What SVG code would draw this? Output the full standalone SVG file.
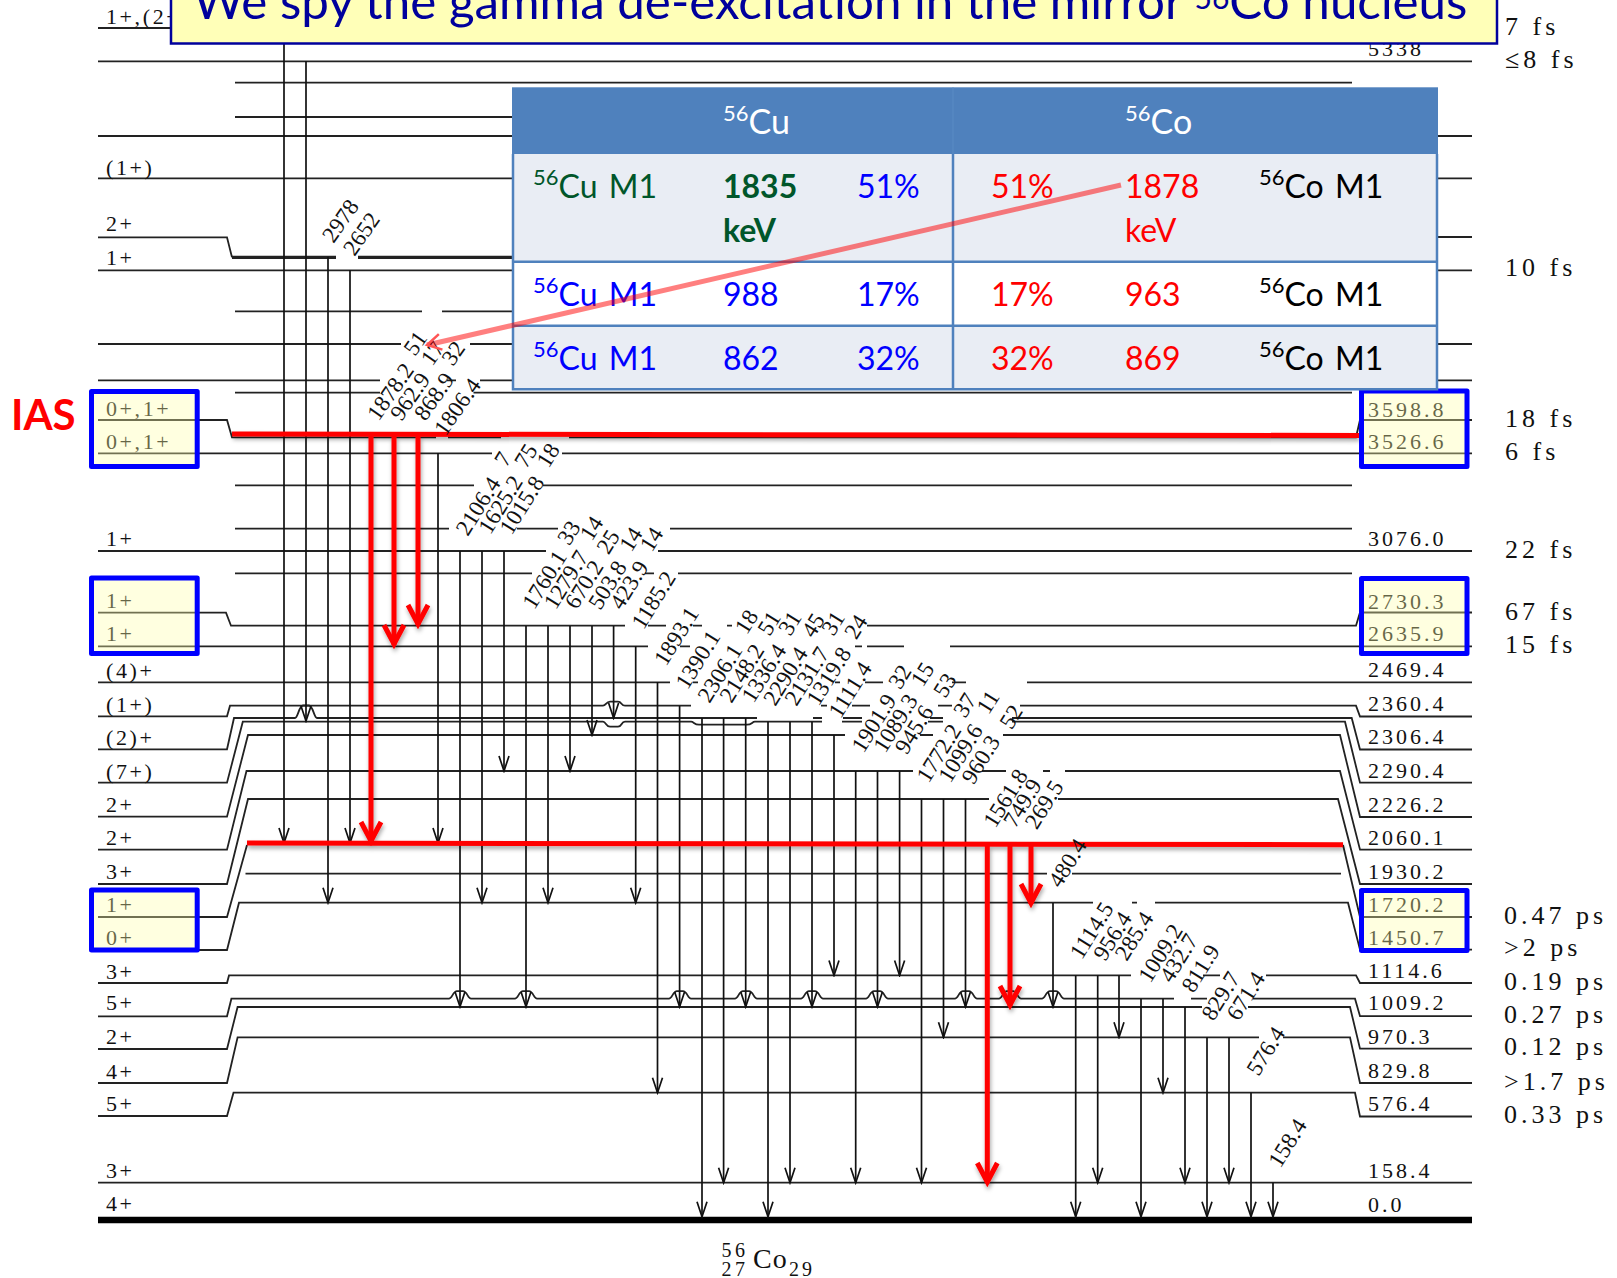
<svg xmlns="http://www.w3.org/2000/svg" width="1617" height="1278" viewBox="0 0 1617 1278">
<style>
.lv{fill:none;stroke:#222;stroke-width:1.8}
.th{fill:none;stroke:#222;stroke-width:3.2}
.gs{fill:none;stroke:#111;stroke-width:1.7;marker-end:url(#ga)}
.rd{fill:none;stroke:#f00;stroke-width:5}
.ra{fill:none;stroke:#f00;stroke-width:5;marker-end:url(#ra)}
.sp{font:22px "Liberation Serif",serif;letter-spacing:2.6px;fill:#111}
.en{font:22px "Liberation Serif",serif;letter-spacing:3px;fill:#111}
.hl{font:26px "Liberation Serif",serif;letter-spacing:4px;fill:#111}
.g text{font:23px "Liberation Serif",serif;fill:#111}
.box{fill:#ffffa8;fill-opacity:.36;stroke:#00f;stroke-width:5;stroke-linejoin:round}
.t{font:32px Lato,"Liberation Sans",sans-serif}
.s{font-size:22px}
.m{word-spacing:3px}
.h{font-size:34px}
.cell{stroke:#4f81bd;stroke-width:2.5}
</style>
<defs>
<marker id="ga" viewBox="-17 -7 19 14" refX="0" refY="0" markerWidth="19" markerHeight="14" markerUnits="userSpaceOnUse" orient="auto"><path d="M-15,-5 Q-6,-2 0,0 Q-6,2 -15,5" fill="none" stroke="#111" stroke-width="1.7"/></marker>
<marker id="ra" viewBox="-26 -15 30 30" refX="0" refY="0" markerWidth="30" markerHeight="30" markerUnits="userSpaceOnUse" orient="auto"><path d="M-20,-10 L-1,0 L-20,10" fill="none" stroke="#f00" stroke-width="5"/></marker>
<marker id="pa" viewBox="-20 -12 24 24" refX="0" refY="0" markerWidth="24" markerHeight="24" markerUnits="userSpaceOnUse" orient="auto"><path d="M-14,-8 L0,0 L-14,8" fill="none" stroke="#f55" stroke-width="2.5"/></marker>
<filter id="sh" x="-5%" y="-5%" width="110%" height="110%"><feDropShadow dx="1" dy="3" stdDeviation="2" flood-color="#000" flood-opacity=".35"/></filter>
</defs>
<rect width="1617" height="1278" fill="#fff"/>
<g id="levels">
<path class="lv" d="M98,28H300M98,61.3H1472M235,82.7H1352M235,117H1352M98,136H1472M98,178.3H1472"/>
<path class="lv" d="M98,237.3H227L232,257.3M1430,237H1472"/>
<path class="th" d="M232,257.3H336M358,257.3H520"/>
<path class="lv" d="M98,270.3H1472M235,311.3H422M442,311.3H1352M98,344H401M470,344H1472"/>
<path class="lv" d="M98,380.3H380M447,380.3H456M480,380.3H1472M235,392.7H380M473.5,392.7H1352"/>
<path class="lv" d="M98,420H227L232,437.3H436M448,437.3H501M569,437.3H1356L1360,420H1472"/>
<path class="lv" d="M98,453.3H492M562,453.3H1472M235,485.3H474M543,485.3H1352"/>
<path class="lv" d="M235,528.7H449M517,528.7H558M670,528.7H1352M98,551H546M658,551H1472"/>
<path class="lv" d="M235,573.3H532M645,573.3H654M678,573.3H1352"/>
<path class="lv" d="M98,612.7H226L231,625.7H625M648,625.7H666M693,625.7H702M727,625.7H732M867,625.7H1356L1360,612.5H1472"/>
<path class="lv" d="M98,646.3H648M680,646.3H690M855,646.3H862M867,646.3H904M950,646.3H1472"/>
<path class="lv" d="M98,682.3H670M693,682.3H698M835,682.3H840M865,682.3H883M952,682.3H966M1027,682.3H1472"/>
<path class="lv" d="M98,716.3H227L230,705.7H603c3,0 3,-4 7,-4h8c4,0 3,4 7,4H691M821,705.7H827M852,705.7H870M938,705.7H952M1020,705.7H1356L1360,716.5H1472"/>
<path class="lv" d="M98,749.3H227L234,718H295c3,0 4,-12.5 8,-12.5h6c4,0 5,12.5 8,12.5H757M813,718H822M843,718H862M930,718H943M1012,718H1351.7L1360,749.5H1472"/>
<path class="lv" d="M98,782.7H227L242.8,721.7H603c3,0 3,5 7,5h8c4,0 3,-5 7,-5H691c3,0 3,3 8,3h48c5,0 5,-3 8,-3H822M842,721.7H862M928,721.7H943M1012,721.7H1345L1360,782.7H1472"/>
<path class="lv" d="M98,816.7H227L248,735H845M920,735H933M1003,735H1340L1360,817H1472"/>
<path class="lv" d="M98,849.7H227L246.5,771H913M982,771H1006M1043,771H1050M1065,771H1340L1360,849.7H1472"/>
<path class="lv" d="M98,884H227L248,799H989M1058,799H1338L1360,884H1472"/>
<path class="lv" d="M98,917H227L247,845M1343,845L1360,917H1472M245.5,873.7H1047M1072,873.7H1341"/>
<path class="lv" d="M98,950H227L239,902.7H1093M1132,902.7H1137M1155,902.7H1348L1360,949.6H1472"/>
<path class="lv" d="M98,983H227L229,975.4H1131M1203,975.4H1220M1266,975.4H1356L1360,983H1472"/>
<path class="lv" d="M98,1016.3H227L231.4,998.7H449c3,0 4,-7.5 8,-7.5h6c4,0 5,7.5 8,7.5H515c3,0 4,-7.5 8,-7.5h6c4,0 5,7.5 8,7.5H669c3,0 4,-7.5 8,-7.5h6c4,0 5,7.5 8,7.5H735c3,0 4,-7.5 8,-7.5h6c4,0 5,7.5 8,7.5H801c3,0 4,-7.5 8,-7.5h6c4,0 5,7.5 8,7.5H866c3,0 4,-7.5 8,-7.5h6c4,0 5,7.5 8,7.5H955c3,0 4,-7.5 8,-7.5h6c4,0 5,7.5 8,7.5H999c3,0 4,-7.5 8,-7.5h6c4,0 5,7.5 8,7.5H1042c3,0 4,-7.5 8,-7.5h6c4,0 5,7.5 8,7.5H1174M1191,998.7H1207M1253,998.7H1355L1360,1016.2H1472"/>
<path class="lv" d="M98,1049H227L237.6,1007H1202M1248,1007H1350L1360,1048.7H1472"/>
<path class="lv" d="M98,1083H227L237.6,1037.3H1259M1283,1037.3H1350L1360,1083H1472"/>
<path class="lv" d="M98,1116H227L233.5,1092.7H1355L1360,1116.5H1472M98,1182.7H1472"/>
<path d="M98,1220H1472" fill="none" stroke="#000" stroke-width="6.5"/>
</g>
<g id="connectors">
<path class="gs" d="M284,43V843"/><path class="gs" d="M306,61V721"/><path class="gs" d="M328,257V902.7"/><path class="gs" d="M350,270V843"/><path class="gs" d="M438,453V843"/>
<path class="gs" d="M460,551V1006.7"/><path class="gs" d="M482,551V902.7"/><path class="gs" d="M504,551V771"/>
<path class="gs" d="M526,626V1006.7"/><path class="gs" d="M548,626V902.7"/><path class="gs" d="M570,626V771"/><path class="gs" d="M592,626V735"/><path class="gs" d="M613.6,626V718"/>
<path class="gs" d="M635.7,646V902.7"/><path class="gs" d="M657.5,682V1092.7"/><path class="gs" d="M679.6,706V1006.7"/>
<path class="gs" d="M702,718V1216.7"/><path class="gs" d="M723.6,718V1182.7"/><path class="gs" d="M745.7,718V1006.7"/>
<path class="gs" d="M768,721.7V1216.7"/><path class="gs" d="M790,721.7V1182.7"/><path class="gs" d="M812,721.7V1006.7"/>
<path class="gs" d="M834,735V975.4"/><path class="gs" d="M855.7,771V1182.7"/><path class="gs" d="M877.5,771V1006.7"/><path class="gs" d="M899.6,771V975.4"/>
<path class="gs" d="M921.5,799V1182.7"/><path class="gs" d="M943.5,799V1037.3"/><path class="gs" d="M965.5,799V1006.7"/>
<path class="gs" d="M1053,903V1006.7"/><path class="gs" d="M1075.7,975.4V1216.7"/><path class="gs" d="M1097.7,975.4V1182.7"/><path class="gs" d="M1119,975.4V1037.3"/>
<path class="gs" d="M1141,998.7V1216.7"/><path class="gs" d="M1163,998.7V1092.7"/><path class="gs" d="M1185,1007V1182.7"/>
<path class="gs" d="M1207,1037.3V1216.7"/><path class="gs" d="M1229,1037.3V1182.7"/><path class="gs" d="M1251,1092.7V1216.7"/><path class="gs" d="M1273,1182.7V1216.7"/>
<g id="red-connectors" filter="url(#sh)">
<path class="rd" d="M232,434L1359,435.5"/><path class="rd" d="M247,843L1343,844.7"/>
<path class="ra" d="M371,435V842"/><path class="ra" d="M394,435V645"/><path class="ra" d="M418,435V625"/>
<path class="ra" d="M987.3,844V1183"/><path class="ra" d="M1010,844V1006"/><path class="ra" d="M1031,844V904"/>
</g>
</g>
<g id="gamma-labels" class="g" transform="translate(.5,1)">
<text transform="translate(333,243) rotate(-55)">2978</text><text transform="translate(354,256) rotate(-55)">2652</text>
<text transform="translate(378,421) rotate(-55)">1878.2</text><text transform="translate(401,421) rotate(-55)">962.9</text><text transform="translate(425,421) rotate(-55)">868.9</text><text transform="translate(445,436) rotate(-55)">1806.4</text>
<text transform="translate(414.5,356) rotate(-55)">51</text><text transform="translate(431.7,366) rotate(-55)">17</text><text transform="translate(452.4,366) rotate(-55)">32</text>
<text transform="translate(467.3,536) rotate(-58)">2106.4</text><text transform="translate(489.7,534.5) rotate(-58)">1625.2</text><text transform="translate(511,535) rotate(-58)">1015.8</text>
<text transform="translate(505.7,467) rotate(-58)">7</text><text transform="translate(525.7,468.5) rotate(-58)">75</text><text transform="translate(548,468) rotate(-58)">18</text>
<text transform="translate(533.7,609.5) rotate(-58)">1760.1</text><text transform="translate(555.3,609.5) rotate(-58)">1279.7</text><text transform="translate(576.3,609.5) rotate(-58)">670.2</text><text transform="translate(599.7,610) rotate(-58)">503.8</text><text transform="translate(621.3,610) rotate(-58)">423.9</text><text transform="translate(643,629.5) rotate(-58)">1185.2</text>
<text transform="translate(568.7,545.5) rotate(-58)">33</text><text transform="translate(591.3,541) rotate(-58)">14</text><text transform="translate(608,554.5) rotate(-58)">25</text><text transform="translate(630.7,552) rotate(-58)">14</text><text transform="translate(651.3,552) rotate(-58)">14</text>
<text transform="translate(665.5,666) rotate(-58)">1893.1</text><text transform="translate(687,689.5) rotate(-58)">1390.1</text><text transform="translate(709,703) rotate(-58)">2306.1</text><text transform="translate(731,703) rotate(-58)">2148.2</text><text transform="translate(753,703) rotate(-58)">1336.4</text><text transform="translate(774.7,706) rotate(-58)">2290.4</text><text transform="translate(796,706) rotate(-58)">2131.7</text><text transform="translate(818,706) rotate(-58)">1319.8</text><text transform="translate(840,718.5) rotate(-58)">1111.4</text>
<text transform="translate(746.3,634.5) rotate(-58)">18</text><text transform="translate(769,636) rotate(-58)">51</text><text transform="translate(789.7,636) rotate(-58)">31</text><text transform="translate(813,638) rotate(-58)">45</text><text transform="translate(833,636) rotate(-58)">31</text><text transform="translate(855.7,639.5) rotate(-58)">24</text>
<text transform="translate(863,753) rotate(-58)">1901.9</text><text transform="translate(884.7,753) rotate(-58)">1089.3</text><text transform="translate(906.3,754.5) rotate(-58)">945.6</text>
<text transform="translate(899.7,689.5) rotate(-58)">32</text><text transform="translate(922.3,687) rotate(-58)">15</text><text transform="translate(944.7,698) rotate(-58)">53</text>
<text transform="translate(928,783) rotate(-58)">1772.2</text><text transform="translate(949.7,783) rotate(-58)">1099.6</text><text transform="translate(973,784.5) rotate(-58)">960.3</text>
<text transform="translate(964.7,718) rotate(-58)">37</text><text transform="translate(988,714.5) rotate(-58)">11</text><text transform="translate(1011,729.5) rotate(-58)">52</text>
<text transform="translate(994.7,828) rotate(-58)">1561.8</text><text transform="translate(1014.7,828) rotate(-58)">749.9</text><text transform="translate(1036.3,829.5) rotate(-58)">269.5</text>
<text transform="translate(1059.7,888) rotate(-58)">480.4</text>
<text transform="translate(1081.3,959.5) rotate(-58)">1114.5</text><text transform="translate(1104.7,961) rotate(-58)">956.4</text><text transform="translate(1126.3,961) rotate(-58)">285.4</text>
<text transform="translate(1149.7,983) rotate(-58)">1009.2</text><text transform="translate(1171,983) rotate(-58)">432.7</text><text transform="translate(1193,993) rotate(-58)">811.9</text>
<text transform="translate(1213,1021) rotate(-58)">829.7</text><text transform="translate(1238,1021) rotate(-58)">671.4</text>
<text transform="translate(1258,1076) rotate(-58)">576.4</text><text transform="translate(1279.7,1168) rotate(-58)">158.4</text>
</g>
<g id="spin-labels" class="sp" transform="translate(0,-.5)">
<text x="106" y="24">1+,(2+</text><text x="106" y="175">(1+)</text><text x="106" y="231.7">2+</text><text x="106" y="265">1+</text>
<text x="106" y="416.7">0+,1+</text><text x="106" y="449.3">0+,1+</text><text x="106" y="546.7">1+</text><text x="106" y="608.3">1+</text><text x="106" y="641.7">1+</text>
<text x="106" y="678">(4)+</text><text x="106" y="712">(1+)</text><text x="106" y="745.7">(2)+</text><text x="106" y="779">(7+)</text><text x="106" y="812.7">2+</text><text x="106" y="845.7">2+</text><text x="106" y="879.3">3+</text>
<text x="106" y="912.7">1+</text><text x="106" y="945">0+</text><text x="106" y="979.3">3+</text><text x="106" y="1010.7">5+</text><text x="106" y="1044.3">2+</text><text x="106" y="1079">4+</text><text x="106" y="1111.7">5+</text><text x="106" y="1178.3">3+</text><text x="106" y="1211.7">4+</text>
</g>
<g id="energy-labels" class="en" transform="translate(0,-.5)">
<text x="1368" y="56">5338</text><text x="1368" y="417.4">3598.8</text><text x="1368" y="449.5">3526.6</text><text x="1368" y="546.9">3076.0</text><text x="1368" y="609.4">2730.3</text><text x="1368" y="641.5">2635.9</text>
<text x="1368" y="677.5">2469.4</text><text x="1368" y="711.6">2360.4</text><text x="1368" y="744.5">2306.4</text><text x="1368" y="778.5">2290.4</text><text x="1368" y="812">2226.2</text><text x="1368" y="845.5">2060.1</text><text x="1368" y="879">1930.2</text>
<text x="1368" y="912">1720.2</text><text x="1368" y="945.4">1450.7</text><text x="1368" y="978.7">1114.6</text><text x="1368" y="1010.5">1009.2</text><text x="1368" y="1044.5">970.3</text><text x="1368" y="1078.6">829.8</text><text x="1368" y="1111.5">576.4</text><text x="1368" y="1178">158.4</text><text x="1368" y="1212">0.0</text>
</g>
<g id="halflife-labels" class="hl">
<text x="1505" y="35">7 fs</text><text x="1505" y="68">≤8 fs</text><text x="1505" y="276">10 fs</text><text x="1505" y="427">18 fs</text><text x="1505" y="459.5">6 fs</text><text x="1505" y="558">22 fs</text><text x="1505" y="620">67 fs</text><text x="1505" y="652.7">15 fs</text>
<text x="1504" y="923.5">0.47 ps</text><text x="1504" y="956">&gt;2 ps</text><text x="1504" y="989.5">0.19 ps</text><text x="1504" y="1022.5">0.27 ps</text><text x="1504" y="1054.5">0.12 ps</text><text x="1504" y="1089.5">&gt;1.7 ps</text><text x="1504" y="1122.5">0.33 ps</text>
</g>
<g id="nuclide-label" font-family="'Liberation Serif',serif" fill="#111">
<text x="721.5" y="1257" font-size="20" letter-spacing="3.5">56</text><text x="721.5" y="1276" font-size="20" letter-spacing="3.5">27</text><text x="753" y="1268" font-size="28" letter-spacing="1">Co</text><text x="789" y="1276" font-size="20" letter-spacing="3">29</text>
</g>
<g id="box-ias-left"><rect class="box" x="91.5" y="391.5" width="105.7" height="75"/></g>
<g id="box-1plus-left"><rect class="box" x="91.5" y="578" width="105.7" height="75.5"/></g>
<g id="box-low-left"><rect class="box" x="91.5" y="890" width="105.7" height="60"/></g>
<g id="box-ias-right"><rect class="box" x="1361.5" y="391" width="105.5" height="75.5"/></g>
<g id="box-1plus-right"><rect class="box" x="1361.5" y="578.5" width="105.5" height="75"/></g>
<g id="box-low-right"><rect class="box" x="1361.5" y="890.5" width="105.5" height="60"/></g>
<g id="ias-label"><text x="11" y="430" font-family="Lato,'Liberation Sans',sans-serif" font-weight="700" font-size="42" fill="#f00">IAS</text></g>
<g id="table">
<rect x="512" y="87.3" width="926" height="66.7" fill="#4f81bd"/>
<rect x="512" y="154" width="926" height="107.7" fill="#e9edf4"/>
<rect x="512" y="261.7" width="926" height="64" fill="#fff"/>
<rect x="512" y="325.7" width="926" height="63.6" fill="#e9edf4"/>
<path class="cell" fill="none" d="M513,154V389.3H1437V154M513,261.7H1437M513,325.7H1437M953,154V389.3"/>
<path d="M953,87.3V154" stroke="#5b8bc4" stroke-width="1"/>
<g class="t" transform="translate(0,1)">
<text x="723" y="133" fill="#fff" class="h"><tspan class="s" dy="-13">56</tspan><tspan dy="13">Cu</tspan></text>
<text x="1125" y="133" fill="#fff" class="h"><tspan class="s" dy="-13">56</tspan><tspan dy="13">Co</tspan></text>
<text x="533" y="197" fill="#00562a" class="m"><tspan class="s" dy="-13">56</tspan><tspan dy="13">Cu M1</tspan></text>
<text x="723" y="197" fill="#00562a" font-weight="700">1835</text><text x="723" y="241" fill="#00562a" font-weight="700">keV</text>
<text x="857" y="197" fill="#00f">51%</text><text x="991" y="197" fill="#f00">51%</text>
<text x="1125" y="197" fill="#f00">1878</text><text x="1125" y="241" fill="#f00">keV</text>
<text x="1259" y="197" fill="#000" class="m"><tspan class="s" dy="-13">56</tspan><tspan dy="13">Co M1</tspan></text>
<text x="533" y="305" fill="#00f" class="m"><tspan class="s" dy="-13">56</tspan><tspan dy="13">Cu M1</tspan></text>
<text x="723" y="305" fill="#00f">988</text><text x="857" y="305" fill="#00f">17%</text><text x="991" y="305" fill="#f00">17%</text><text x="1125" y="305" fill="#f00">963</text>
<text x="1259" y="305" fill="#000" class="m"><tspan class="s" dy="-13">56</tspan><tspan dy="13">Co M1</tspan></text>
<text x="533" y="369" fill="#00f" class="m"><tspan class="s" dy="-13">56</tspan><tspan dy="13">Cu M1</tspan></text>
<text x="723" y="369" fill="#00f">862</text><text x="857" y="369" fill="#00f">32%</text><text x="991" y="369" fill="#f00">32%</text><text x="1125" y="369" fill="#f00">869</text>
<text x="1259" y="369" fill="#000" class="m"><tspan class="s" dy="-13">56</tspan><tspan dy="13">Co M1</tspan></text>
</g>
</g>
<g id="pink-arrow"><path d="M1121,185L427,345" fill="none" stroke="#f00" stroke-opacity=".5" stroke-width="5" marker-end="url(#pa)"/></g>
<g id="title">
<rect x="171" y="-10" width="1326" height="53.5" fill="#ffffb8" stroke="#00009c" stroke-width="2.5"/>
<text x="193" y="19" font-family="Lato,'Liberation Sans',sans-serif" font-size="49.3" fill="#00009c">We spy the gamma de-excitation in the mirror <tspan font-size="30" dy="-10">56</tspan><tspan dy="10">Co nucleus</tspan></text>
</g>
</svg>
